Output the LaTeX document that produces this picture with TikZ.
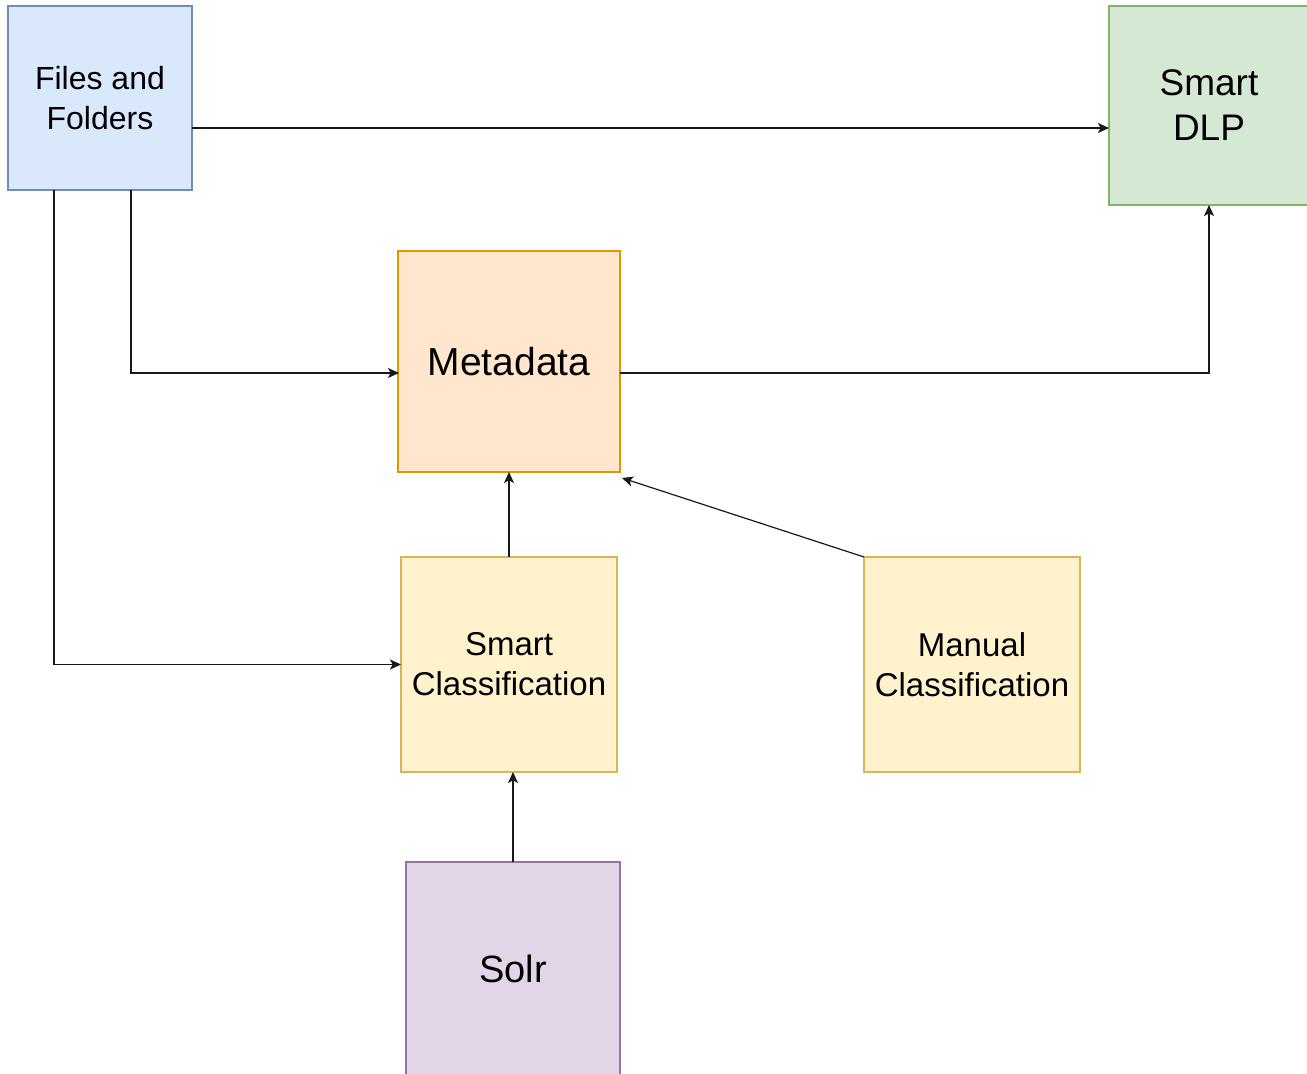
\documentclass[tikz,border=0pt]{standalone}
\usepackage{fontspec}
\setmainfont{Liberation Sans}
\usetikzlibrary{arrows.meta}
\definecolor{bluef}{HTML}{DAE8FC}\definecolor{blued}{HTML}{6C8EBF}
\definecolor{greenf}{HTML}{D5E8D4}\definecolor{greend}{HTML}{82B366}
\definecolor{orangef}{HTML}{FFE6CC}\definecolor{oranged}{HTML}{D79B00}
\definecolor{yellowf}{HTML}{FFF2CC}\definecolor{yellowd}{HTML}{D6B656}
\definecolor{purplef}{HTML}{E1D5E7}\definecolor{purpled}{HTML}{9673A6}
\tikzset{
  box/.style={rectangle, inner sep=0pt, outer sep=0pt, line width=0.65pt, align=center, text=black},
  arr/.style={draw=black!90, line width=0.6pt, -{Stealth[length=5.5pt,width=5pt,inset=1.3pt]}},
}
\begin{document}
\begin{tikzpicture}[x=0.5pt,y=-0.5pt]
\useasboundingbox (0,0) rectangle (1307,1074);
\node[box, fill=bluef, draw=blued, minimum width=92pt, minimum height=92pt,
  font=\fontsize{16}{20}\selectfont] (files) at (100,98) {Files and\\Folders};
\node[box, fill=greenf, draw=greend, minimum width=100pt, minimum height=99.5pt,
  font=\fontsize{18.5}{22.5}\selectfont] (dlp) at (1209,105.5) {Smart\\DLP};
\node[box, fill=orangef, draw=oranged, minimum width=111pt, minimum height=110.5pt,
  font=\fontsize{19.5}{23}\selectfont] (meta) at (509,361.5) {Metadata};
\node[box, fill=yellowf, draw=yellowd, minimum width=108pt, minimum height=107.5pt,
  font=\fontsize{16.5}{20}\selectfont] (sc) at (509,664.5) {Smart\\Classification};
\node[box, fill=yellowf, draw=yellowd, minimum width=108pt, minimum height=107.5pt,
  font=\fontsize{16.5}{20}\selectfont] (mc) at (972,664.5) {Manual\\Classification};
\node[box, fill=purplef, draw=purpled, minimum width=107pt, minimum height=107pt,
  font=\fontsize{19}{23}\selectfont] (solr) at (513,969) {Solr};
\coordinate (dlpin) at (1109,128);
\draw[arr] (files.east |- dlpin) -- (dlpin);
\coordinate (metain) at (399,373);
\draw[arr] (files.south -| 131,0) |- (metain);
\draw[arr] (files.south -| 54,0) |- (sc.west);
\draw[arr] (meta.east |- metain) -| (dlp.south);
\draw[arr] (sc.north) -- (meta.south);
\draw[arr] (mc.north west) -- ([shift={(2,6)}]meta.south east);
\draw[arr] (solr.north) -- (sc.south -| solr.north);
\end{tikzpicture}
\end{document}
